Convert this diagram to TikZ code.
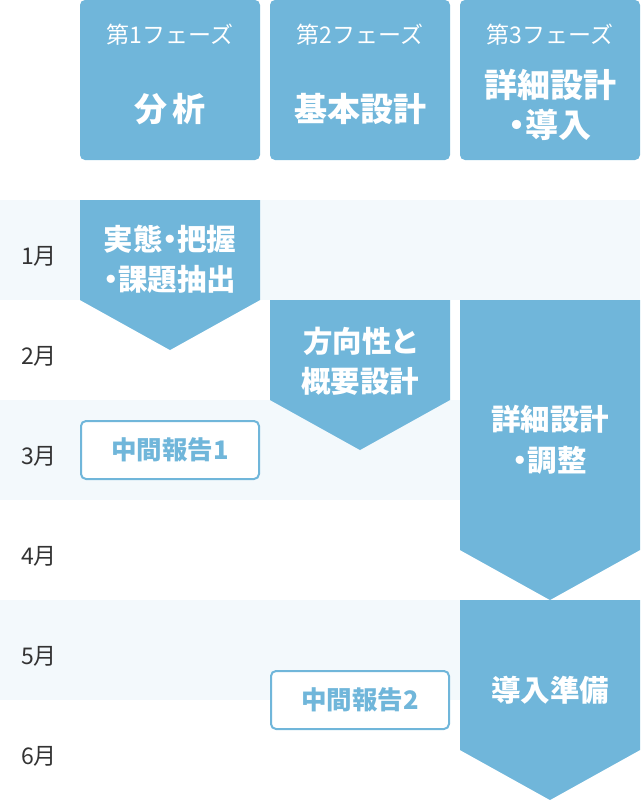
\documentclass[tikz,border=0pt]{standalone}
\usepackage{fontspec}
\setmainfont{Noto Sans CJK JP}
\newfontfamily\jp{Noto Sans CJK JP}[RawFeature=+palt]
\definecolor{phase}{HTML}{70B6DA}
\definecolor{band}{HTML}{F3F9FC}
\definecolor{monthc}{HTML}{333333}
\begin{document}
\begin{tikzpicture}[x=1pt,y=-1pt,
  hdrbox/.style={fill=phase, rounded corners=5pt},
  hdrsmall/.style={inner sep=0pt, text=white, font=\fontsize{23}{24}\selectfont,
    text height=18.4pt, text depth=0.9pt},
  hdrbig/.style={inner sep=0pt, text=white, font=\jp\fontsize{33}{40}\selectfont\bfseries,
    text height=26.4pt, text depth=1.3pt},
  arrowfill/.style={fill=phase},
  arrowtext/.style={inner sep=0pt, text=white, font=\jp\fontsize{29.5}{40}\selectfont\bfseries,
    text height=23.6pt, text depth=1.2pt},
  reportbox/.style={draw=phase, line width=2pt, fill=white, rounded corners=5pt,
    minimum width=178pt, minimum height=58pt, inner sep=0pt, text=phase,
    font=\jp\fontsize{25.5}{28}\selectfont\bfseries, text height=20.4pt, text depth=1pt},
  monthlbl/.style={inner sep=0pt, text=monthc, font=\fontsize{23}{24}\selectfont,
    text height=18.4pt, text depth=0.9pt}]
\useasboundingbox (0,0) rectangle (640,800);
% bands
\fill[band] (0,200) rectangle (640,300);
\fill[band] (0,400) rectangle (640,500);
\fill[band] (0,600) rectangle (640,700);
% headers
\fill[hdrbox] (80,0) rectangle (260,160);
\fill[hdrbox] (270,0) rectangle (450,160);
\fill[hdrbox] (460,0) rectangle (640,160);
\node[hdrsmall] (h1s) at (170,35) {第1フェーズ};
\node[hdrsmall] (h2s) at (360,35) {第2フェーズ};
\node[hdrsmall] (h3s) at (550,35) {第3フェーズ};
\node[hdrbig] (h1b) at (170,109) {分\kern6pt析};
\node[hdrbig] (h2b) at (360,109) {基本設計};
\node[hdrbig] (h3b) at (550,85) {詳細設計};
\node[hdrbig] (h3c) at (550,125) {・導入};
% arrows
\fill[arrowfill] (80,200) -- (260,200) -- (260,300) -- (170,350) -- (80,300) -- cycle;
\fill[arrowfill] (270,300) -- (450,300) -- (450,400) -- (360,450) -- (270,400) -- cycle;
\fill[arrowfill] (460,300) -- (640,300) -- (640,550) -- (550,600) -- (460,550) -- cycle;
\fill[arrowfill] (460,600) -- (640,600) -- (640,750) -- (550,800) -- (460,750) -- cycle;
\node[arrowtext] (a1) at (170,239.5) {実態・把握};
\node[arrowtext] (a1b) at (170,279) {・課題抽出};
\node[arrowtext] (a2) at (360,341) {方向性と};
\node[arrowtext] (a2b) at (360,381) {概要設計};
\node[arrowtext] (a3) at (550,419.5) {詳細設計};
\node[arrowtext] (a3b) at (550,460) {・調整};
\node[arrowtext] (a4) at (550,690) {導入準備};
% reports
\node[reportbox] (r1) at (170,450) {中間報告1};
\node[reportbox] (r2) at (360,700) {中間報告2};
% months
\node[monthlbl] (m1) at (39,256) {1月};
\node[monthlbl] (m2) at (39,356) {2月};
\node[monthlbl] (m3) at (39,456) {3月};
\node[monthlbl] (m4) at (39,556) {4月};
\node[monthlbl] (m5) at (39,656) {5月};
\node[monthlbl] (m6) at (39,756) {6月};
\end{tikzpicture}
\end{document}
